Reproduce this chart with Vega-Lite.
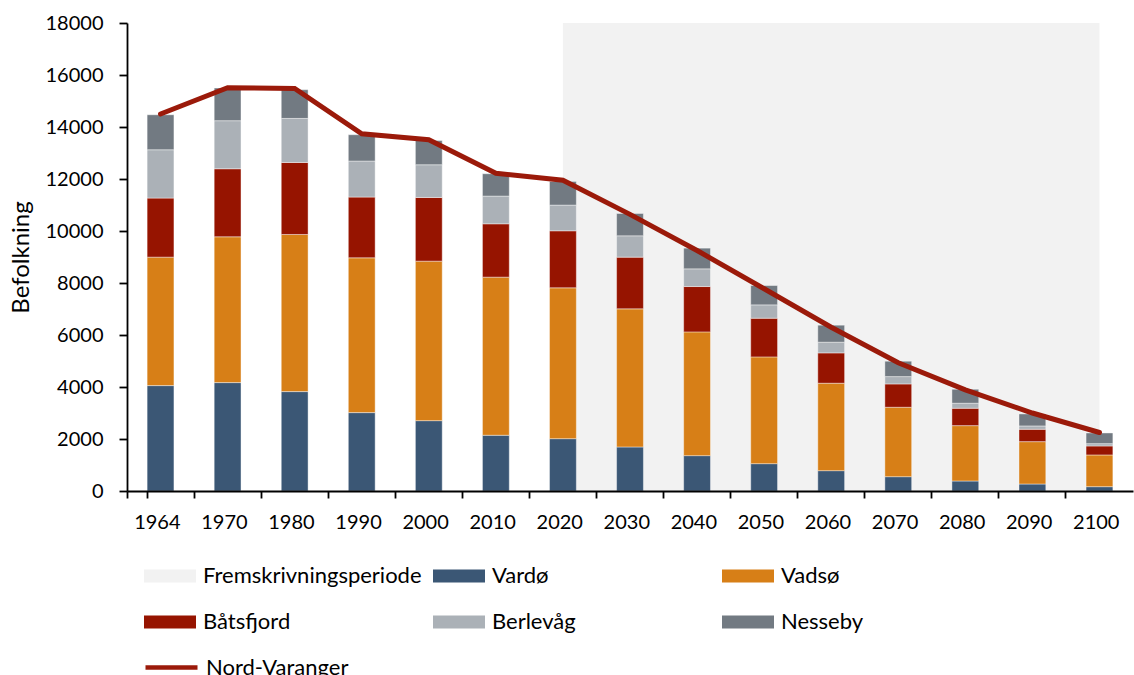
{
  "$schema": "https://vega.github.io/schema/vega-lite/v6.json",
  "width": 1006,
  "height": 468,
  "autosize": "none",
  "padding": {"left": 127, "top": 23, "right": 1, "bottom": 184},
  "background": "white",
  "config": {
    "view": {"stroke": null},
    "font": "Lato",
    "axis": {"labelFont": "Lato", "titleFont": "Lato", "labelColor": "#000000", "titleColor": "#000000", "labelFontSize": 20, "titleFontSize": 24, "titleFontWeight": "normal", "domainColor": "#000000", "tickColor": "#000000", "domainWidth": 1.8, "tickWidth": 1.8, "grid": false}
  },
  "datasets": {
    "bars": [
      {"year": "1964", "series": "Vardø", "value": 4054}, {"year": "1964", "series": "Vadsø", "value": 4941}, {"year": "1964", "series": "Båtsfjord", "value": 2271}, {"year": "1964", "series": "Berlevåg", "value": 1859}, {"year": "1964", "series": "Nesseby", "value": 1345},
      {"year": "1970", "series": "Vardø", "value": 4169}, {"year": "1970", "series": "Vadsø", "value": 5608}, {"year": "1970", "series": "Båtsfjord", "value": 2617}, {"year": "1970", "series": "Berlevåg", "value": 1848}, {"year": "1970", "series": "Nesseby", "value": 1258},
      {"year": "1980", "series": "Vardø", "value": 3823}, {"year": "1980", "series": "Vadsø", "value": 6043}, {"year": "1980", "series": "Båtsfjord", "value": 2771}, {"year": "1980", "series": "Berlevåg", "value": 1693}, {"year": "1980", "series": "Nesseby", "value": 1105},
      {"year": "1990", "series": "Vardø", "value": 3015}, {"year": "1990", "series": "Vadsø", "value": 5953}, {"year": "1990", "series": "Båtsfjord", "value": 2337}, {"year": "1990", "series": "Berlevåg", "value": 1385}, {"year": "1990", "series": "Nesseby", "value": 1013},
      {"year": "2000", "series": "Vardø", "value": 2706}, {"year": "2000", "series": "Vadsø", "value": 6135}, {"year": "2000", "series": "Båtsfjord", "value": 2449}, {"year": "2000", "series": "Berlevåg", "value": 1258}, {"year": "2000", "series": "Nesseby", "value": 932},
      {"year": "2010", "series": "Vardø", "value": 2144}, {"year": "2010", "series": "Vadsø", "value": 6081}, {"year": "2010", "series": "Båtsfjord", "value": 2052}, {"year": "2010", "series": "Berlevåg", "value": 1066}, {"year": "2010", "series": "Nesseby", "value": 859},
      {"year": "2020", "series": "Vardø", "value": 2013}, {"year": "2020", "series": "Vadsø", "value": 5801}, {"year": "2020", "series": "Båtsfjord", "value": 2194}, {"year": "2020", "series": "Berlevåg", "value": 988}, {"year": "2020", "series": "Nesseby", "value": 910},
      {"year": "2030", "series": "Vardø", "value": 1694}, {"year": "2030", "series": "Vadsø", "value": 5311}, {"year": "2030", "series": "Båtsfjord", "value": 1990}, {"year": "2030", "series": "Berlevåg", "value": 820}, {"year": "2030", "series": "Nesseby", "value": 859},
      {"year": "2040", "series": "Vardø", "value": 1360}, {"year": "2040", "series": "Vadsø", "value": 4760}, {"year": "2040", "series": "Båtsfjord", "value": 1744}, {"year": "2040", "series": "Berlevåg", "value": 681}, {"year": "2040", "series": "Nesseby", "value": 796},
      {"year": "2050", "series": "Vardø", "value": 1052}, {"year": "2050", "series": "Vadsø", "value": 4106}, {"year": "2050", "series": "Båtsfjord", "value": 1488}, {"year": "2050", "series": "Berlevåg", "value": 513}, {"year": "2050", "series": "Nesseby", "value": 744},
      {"year": "2060", "series": "Vardø", "value": 782}, {"year": "2060", "series": "Vadsø", "value": 3364}, {"year": "2060", "series": "Båtsfjord", "value": 1166}, {"year": "2060", "series": "Berlevåg", "value": 412}, {"year": "2060", "series": "Nesseby", "value": 654},
      {"year": "2070", "series": "Vardø", "value": 551}, {"year": "2070", "series": "Vadsø", "value": 2670}, {"year": "2070", "series": "Båtsfjord", "value": 897}, {"year": "2070", "series": "Berlevåg", "value": 282}, {"year": "2070", "series": "Nesseby", "value": 592},
      {"year": "2080", "series": "Vardø", "value": 385}, {"year": "2080", "series": "Vadsø", "value": 2129}, {"year": "2080", "series": "Båtsfjord", "value": 669}, {"year": "2080", "series": "Berlevåg", "value": 193}, {"year": "2080", "series": "Nesseby", "value": 538},
      {"year": "2090", "series": "Vardø", "value": 269}, {"year": "2090", "series": "Vadsø", "value": 1629}, {"year": "2090", "series": "Båtsfjord", "value": 476}, {"year": "2090", "series": "Berlevåg", "value": 128}, {"year": "2090", "series": "Nesseby", "value": 462},
      {"year": "2100", "series": "Vardø", "value": 166}, {"year": "2100", "series": "Vadsø", "value": 1220}, {"year": "2100", "series": "Båtsfjord", "value": 346}, {"year": "2100", "series": "Berlevåg", "value": 89}, {"year": "2100", "series": "Nesseby", "value": 411}
    ],
    "line": [
      {"year": "1964", "total": 14500, "name": "Nord-Varanger"}, {"year": "1970", "total": 15510, "name": "Nord-Varanger"}, {"year": "1980", "total": 15480, "name": "Nord-Varanger"}, {"year": "1990", "total": 13740, "name": "Nord-Varanger"},
      {"year": "2000", "total": 13510, "name": "Nord-Varanger"}, {"year": "2010", "total": 12220, "name": "Nord-Varanger"}, {"year": "2020", "total": 11950, "name": "Nord-Varanger"}, {"year": "2030", "total": 10640, "name": "Nord-Varanger"},
      {"year": "2040", "total": 9250, "name": "Nord-Varanger"}, {"year": "2050", "total": 7780, "name": "Nord-Varanger"}, {"year": "2060", "total": 6300, "name": "Nord-Varanger"}, {"year": "2070", "total": 4930, "name": "Nord-Varanger"},
      {"year": "2080", "total": 3890, "name": "Nord-Varanger"}, {"year": "2090", "total": 3000, "name": "Nord-Varanger"}, {"year": "2100", "total": 2250, "name": "Nord-Varanger"}
    ],
    "period": [{"start": "2020", "end": "2100", "top": 18000, "bottom": 0}]
  },
  "layer": [
    {
      "data": {"name": "period"},
      "mark": {"type": "rect", "color": "#F2F2F2"},
      "encoding": {
        "x": {"field": "start", "type": "ordinal", "bandPosition": 0.5},
        "x2": {"field": "end", "bandPosition": 0.5},
        "y": {"field": "top", "type": "quantitative"},
        "y2": {"field": "bottom"}
      }
    },
    {
      "data": {"name": "bars"},
      "transform": [{"calculate": "indexof(['Vardø','Vadsø','Båtsfjord','Berlevåg','Nesseby'], datum.series)", "as": "stackorder"}],
      "mark": {"type": "bar", "stroke": "#ffffff", "strokeWidth": 0.6, "strokeOpacity": 0.7},
      "encoding": {
        "x": {"field": "year", "type": "ordinal", "title": null,
              "scale": {"paddingInner": 0.6, "paddingOuter": 0.3},
              "axis": {"labelAngle": 0, "bandPosition": -0.75, "tickExtra": true, "tickSize": 7, "labelPadding": 24, "labelOffset": 20}},
        "y": {"field": "value", "type": "quantitative", "stack": "zero", "title": "Befolkning",
              "scale": {"domain": [0, 18000], "nice": false},
              "axis": {"values": [0, 2000, 4000, 6000, 8000, 10000, 12000, 14000, 16000, 18000], "format": "d", "tickSize": 8, "labelPadding": 16, "titlePadding": 12}},
        "order": {"field": "stackorder", "type": "quantitative"},
        "color": {
          "field": "series", "type": "nominal",
          "scale": {
            "domain": ["Fremskrivningsperiode", "Vardø", "Vadsø", "Båtsfjord", "Berlevåg", "Nesseby"],
            "range": ["#F2F2F2", "#3B5775", "#D77F17", "#961400", "#ABB1B7", "#727A82"]
          },
          "legend": {
            "title": null, "orient": "none", "legendX": 32, "legendY": 542,
            "direction": "horizontal", "columns": 3, "gridAlign": "all",
            "columnPadding": 11, "rowPadding": 24,
            "symbolSize": 400, "symbolType": "M-2.6,-0.65H2.6V0.65H-2.6Z", "symbolStrokeWidth": 0,
            "labelOffset": 22, "labelFontSize": 22, "labelFont": "Lato", "labelColor": "#000000", "labelLimit": 400,
            "symbolOpacity": 1
          }
        }
      }
    },
    {
      "data": {"name": "line"},
      "mark": {"type": "line", "strokeWidth": 5, "strokeCap": "round"},
      "encoding": {
        "x": {"field": "year", "type": "ordinal"},
        "y": {"field": "total", "type": "quantitative"},
        "stroke": {
          "field": "name", "type": "nominal",
          "scale": {"domain": ["Nord-Varanger"], "range": ["#9B1A0A"]},
          "legend": {
            "title": null, "orient": "none", "legendX": 32, "legendY": 632,
            "symbolSize": 400, "symbolType": "M-2.6,0H2.6", "symbolStrokeWidth": 4.5,
            "labelOffset": 22, "labelFontSize": 22, "labelFont": "Lato", "labelColor": "#000000", "labelLimit": 400
          }
        }
      }
    }
  ]
}
